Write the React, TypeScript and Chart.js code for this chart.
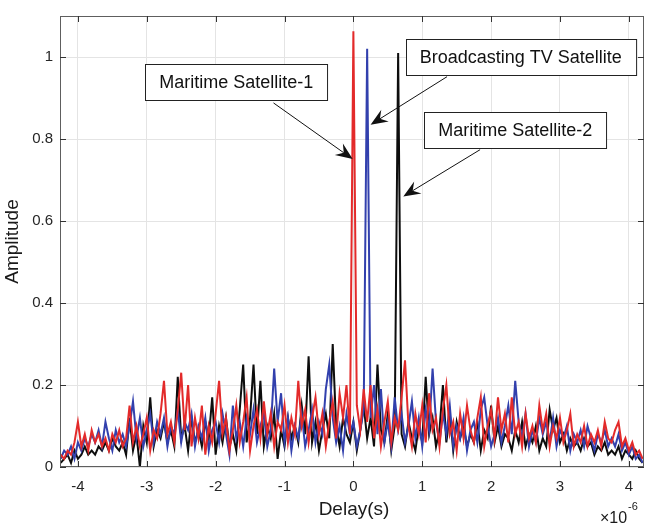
import { useEffect, useRef } from "react";
import { Chart, registerables } from "chart.js";

Chart.register(...registerables);

// Delay axis in units of 1e-6 s (the axis shows a ×10^-6 multiplier)
const delayStartUs = -4.25;
const delayStepUs = 0.05;

const xTickValues = [-4, -3, -2, -1, 0, 1, 2, 3, 4];
const yTickValues = [0, 0.2, 0.4, 0.6, 0.8, 1];

const maritime1 = [
  0.03, 0.02, 0.04, 0.03, 0.06, 0.11, 0.05, 0.08, 0.04, 0.09,
  0.06, 0.08, 0.05, 0.07, 0.04, 0.08, 0.06, 0.09, 0.05, 0.07,
  0.15, 0.06, 0.10, 0.05, 0.08, 0.12, 0.04, 0.09, 0.07, 0.13,
  0.21, 0.08, 0.11, 0.06, 0.14, 0.23, 0.09, 0.20, 0.05, 0.12,
  0.07, 0.15, 0.03, 0.10, 0.06, 0.13, 0.21, 0.08, 0.12, 0.04,
  0.09, 0.15, 0.06, 0.11, 0.17, 0.04, 0.10, 0.14, 0.07, 0.16,
  0.08, 0.13, 0.05, 0.11, 0.09, 0.15, 0.06, 0.12, 0.08, 0.21,
  0.10, 0.14, 0.06, 0.12, 0.17, 0.08, 0.13, 0.05, 0.11, 0.16,
  0.07, 0.18, 0.12, 0.20, 0.08, 1.063, 0.15, 0.09, 0.19, 0.11,
  0.20, 0.07, 0.14, 0.05, 0.11, 0.16, 0.06, 0.12, 0.09, 0.17,
  0.26, 0.10, 0.05, 0.13, 0.08, 0.15, 0.06, 0.18, 0.09, 0.12,
  0.05, 0.14, 0.20, 0.08, 0.11, 0.04, 0.13, 0.07, 0.15, 0.09,
  0.06, 0.12, 0.17, 0.05, 0.10, 0.14, 0.07, 0.17, 0.09, 0.13,
  0.06, 0.17, 0.08, 0.11, 0.05, 0.13, 0.07, 0.10, 0.06, 0.15,
  0.09, 0.13, 0.05, 0.10, 0.07, 0.12, 0.06, 0.09, 0.13, 0.05,
  0.08, 0.06, 0.10, 0.05, 0.08, 0.06, 0.09, 0.05, 0.11, 0.07,
  0.06, 0.09, 0.11, 0.05, 0.07, 0.04, 0.06, 0.03, 0.04, 0.02,
];

const broadcastingTV = [
  0.02, 0.04, 0.03, 0.05, 0.02, 0.06, 0.04, 0.07, 0.05, 0.08,
  0.06, 0.09, 0.05, 0.11, 0.07, 0.04, 0.09, 0.06, 0.08, 0.05,
  0.10, 0.16, 0.07, 0.12, 0.05, 0.09, 0.13, 0.06, 0.11, 0.08,
  0.12, 0.05, 0.10, 0.08, 0.14, 0.06, 0.11, 0.09, 0.13, 0.05,
  0.10, 0.07, 0.12, 0.04, 0.09, 0.11, 0.06, 0.13, 0.08, 0.03,
  0.15, 0.07, 0.11, 0.05, 0.12, 0.08, 0.14, 0.06, 0.10, 0.13,
  0.05, 0.09, 0.24, 0.11, 0.18, 0.06, 0.12, 0.04, 0.10, 0.07,
  0.13, 0.05, 0.09, 0.14, 0.06, 0.11, 0.08, 0.19, 0.25, 0.12,
  0.06, 0.10, 0.04, 0.13, 0.08, 0.11, 0.05, 0.09, 0.14, 1.02,
  0.12, 0.20, 0.08, 0.19, 0.06, 0.11, 0.05, 0.17, 0.09, 0.13,
  0.06, 0.10, 0.16, 0.07, 0.12, 0.05, 0.14, 0.09, 0.24, 0.11,
  0.06, 0.13, 0.08, 0.15, 0.05, 0.10, 0.07, 0.12, 0.04, 0.09,
  0.11, 0.06, 0.14, 0.17, 0.10, 0.05, 0.08, 0.12, 0.06, 0.10,
  0.15, 0.08, 0.21, 0.11, 0.07, 0.13, 0.05, 0.09, 0.06, 0.12,
  0.08, 0.11, 0.06, 0.12, 0.05, 0.09, 0.07, 0.10, 0.04, 0.08,
  0.06, 0.09, 0.05, 0.10, 0.07, 0.04, 0.08, 0.06, 0.09, 0.05,
  0.07, 0.05, 0.08, 0.04, 0.06, 0.03, 0.05, 0.02, 0.03, 0.01,
];

const maritime2 = [
  0.01, 0.02, 0.03, 0.01, 0.04, 0.02, 0.03, 0.05, 0.03, 0.04,
  0.03, 0.05, 0.04, 0.06, 0.04, 0.07, 0.05, 0.04, 0.06, 0.03,
  0.12, 0.04, 0.08, 0.00, 0.10, 0.06, 0.17, 0.05, 0.09, 0.07,
  0.11, 0.06, 0.09, 0.05, 0.22, 0.07, 0.10, 0.04, 0.12, 0.06,
  0.09, 0.05, 0.11, 0.07, 0.17, 0.03, 0.10, 0.06, 0.12, 0.05,
  0.08, 0.04, 0.14, 0.25, 0.06, 0.12, 0.25, 0.08, 0.21, 0.05,
  0.10, 0.07, 0.13, 0.02, 0.09, 0.05, 0.12, 0.07, 0.10, 0.06,
  0.15, 0.08, 0.27, 0.06, 0.11, 0.04, 0.09, 0.13, 0.07, 0.30,
  0.10, 0.05, 0.12, 0.08, 0.06, 0.11, 0.04, 0.09, 0.15, 0.07,
  0.12, 0.05, 0.25, 0.09, 0.06, 0.13, 0.04, 0.10, 1.01, 0.08,
  0.05, 0.11, 0.07, 0.04, 0.10, 0.06, 0.22, 0.08, 0.12, 0.05,
  0.09, 0.20, 0.06, 0.13, 0.04, 0.11, 0.07, 0.10, 0.05, 0.08,
  0.06, 0.11, 0.04, 0.09, 0.07, 0.15, 0.06, 0.10, 0.05, 0.08,
  0.07, 0.04, 0.09, 0.06, 0.11, 0.05, 0.08, 0.06, 0.10, 0.04,
  0.07, 0.05, 0.14, 0.09, 0.12, 0.06, 0.08, 0.04, 0.07, 0.05,
  0.06, 0.04, 0.07, 0.05, 0.06, 0.03, 0.05, 0.04, 0.06, 0.03,
  0.04, 0.03, 0.05, 0.02, 0.04, 0.03, 0.02, 0.04, 0.02, 0.01,
];

// Annotations (text box centre and arrow tail/tip in data coordinates)
const annotations = [
  { text: "Maritime Satellite-1", cx: -1.70, cy: 0.940, tail: [-1.16, 0.888], tip: [-0.01, 0.751] },
  { text: "Broadcasting TV Satellite", cx: 2.43, cy: 0.999, tail: [1.36, 0.952], tip: [0.25, 0.835] },
  { text: "Maritime Satellite-2", cx: 2.35, cy: 0.821, tail: [1.84, 0.774], tip: [0.725, 0.660] },
];

const FONT = "'Liberation Sans', Arial, Helvetica, sans-serif";

function toPoints(values: number[]) {
  return values.map((v, i) => ({
    x: Math.round((delayStartUs + i * delayStepUs) * 1000) / 1000,
    y: v,
  }));
}

function drawArrow(ctx: CanvasRenderingContext2D, x1: number, y1: number, x2: number, y2: number) {
  const ang = Math.atan2(y2 - y1, x2 - x1);
  const headLen = 17;
  const headHalf = 7;
  const back = 11;
  const bx = x2 - Math.cos(ang) * back;
  const by = y2 - Math.sin(ang) * back;
  ctx.beginPath();
  ctx.moveTo(x1, y1);
  ctx.lineTo(bx, by);
  ctx.strokeStyle = "#111";
  ctx.lineWidth = 1;
  ctx.stroke();
  const hx = x2 - Math.cos(ang) * headLen;
  const hy = y2 - Math.sin(ang) * headLen;
  const px = -Math.sin(ang) * headHalf;
  const py = Math.cos(ang) * headHalf;
  ctx.beginPath();
  ctx.moveTo(x2, y2);
  ctx.lineTo(hx + px, hy + py);
  ctx.lineTo(bx, by);
  ctx.lineTo(hx - px, hy - py);
  ctx.closePath();
  ctx.fillStyle = "#111";
  ctx.fill();
}

const decorPlugin = {
  id: "decor",
  afterDraw(chart: any) {
    const { ctx, chartArea: a, scales } = chart;
    const xs = scales.x;
    const ys = scales.y;
    ctx.save();
    // frame
    ctx.strokeStyle = "#5e5e5e";
    ctx.lineWidth = 1;
    ctx.strokeRect(a.left + 0.5, a.top + 0.5, a.right - a.left - 1, a.bottom - a.top - 1);
    // inward ticks
    ctx.strokeStyle = "#333";
    ctx.beginPath();
    xTickValues.forEach((v) => {
      const x = Math.round(xs.getPixelForValue(v)) + 0.5;
      ctx.moveTo(x, a.bottom);
      ctx.lineTo(x, a.bottom - 6);
      ctx.moveTo(x, a.top);
      ctx.lineTo(x, a.top + 6);
    });
    yTickValues.forEach((v) => {
      const y = Math.round(ys.getPixelForValue(v)) + 0.5;
      ctx.moveTo(a.left, y);
      ctx.lineTo(a.left + 6, y);
      ctx.moveTo(a.right, y);
      ctx.lineTo(a.right - 6, y);
    });
    ctx.stroke();

    // axis titles
    ctx.fillStyle = "#1a1a1a";
    ctx.font = `19px ${FONT}`;
    ctx.textAlign = "center";
    ctx.textBaseline = "middle";
    ctx.fillText("Delay(s)", (a.left + a.right) / 2 + 2, 510);
    ctx.save();
    ctx.translate(13, (a.top + a.bottom) / 2);
    ctx.rotate(-Math.PI / 2);
    ctx.fillText("Amplitude", 0, 0);
    ctx.restore();

    // exponent
    ctx.textAlign = "left";
    ctx.textBaseline = "alphabetic";
    ctx.font = `16px ${FONT}`;
    ctx.fillText("\u00d710", 600, 523);
    ctx.font = `11px ${FONT}`;
    ctx.fillText("-6", 628, 510);

    // annotations
    annotations.forEach((an) => {
      drawArrow(
        ctx,
        xs.getPixelForValue(an.tail[0]),
        ys.getPixelForValue(an.tail[1]),
        xs.getPixelForValue(an.tip[0]),
        ys.getPixelForValue(an.tip[1])
      );
    });
    annotations.forEach((an) => {
      ctx.font = `18px ${FONT}`;
      const w = ctx.measureText(an.text).width + 28;
      const h = 36;
      const cx = xs.getPixelForValue(an.cx);
      const cy = ys.getPixelForValue(an.cy);
      const x0 = Math.round(cx - w / 2) + 0.5;
      const y0 = Math.round(cy - h / 2) + 0.5;
      ctx.fillStyle = "#fff";
      ctx.fillRect(x0, y0, w, h);
      ctx.strokeStyle = "#222";
      ctx.lineWidth = 1;
      ctx.strokeRect(x0, y0, w, h);
      ctx.fillStyle = "#111";
      ctx.textAlign = "center";
      ctx.textBaseline = "middle";
      ctx.fillText(an.text, cx, cy + 1);
    });
    ctx.restore();
  },
};

export default function App() {
  const ref = useRef<HTMLCanvasElement | null>(null);

  useEffect(() => {
    document.body.style.margin = "0";
    if (!ref.current) return;
    const chart = new Chart(ref.current, {
      type: "line",
      data: {
        datasets: [
          { label: "Maritime Satellite-1", data: toPoints(maritime1), borderColor: "#e32a2a", borderWidth: 2, pointRadius: 0, tension: 0 },
          { label: "Broadcasting TV Satellite", data: toPoints(broadcastingTV), borderColor: "#3240ad", borderWidth: 2, pointRadius: 0, tension: 0 },
          { label: "Maritime Satellite-2", data: toPoints(maritime2), borderColor: "#0d0d0d", borderWidth: 2, pointRadius: 0, tension: 0 },
        ],
      },
      options: {
        responsive: false,
        animation: false,
        layout: { padding: { top: 4, right: 2, left: 0, bottom: 0 } },
        plugins: { legend: { display: false }, tooltip: { enabled: false } },
        scales: {
          x: {
            type: "linear",
            min: -4.26,
            max: 4.22,
            afterBuildTicks: (s: any) => {
              s.ticks = xTickValues.map((v) => ({ value: v }));
            },
            afterFit: (s: any) => {
              s.height = 62;
            },
            grid: { color: "#e4e4e4", drawTicks: false },
            border: { display: false },
            ticks: {
              padding: 11,
              color: "#262626",
              font: { family: FONT, size: 15 },
              maxRotation: 0,
              autoSkip: false,
              callback: (v: any) => String(Math.round(Number(v))),
            },
          },
          y: {
            type: "linear",
            min: 0,
            max: 1.1,
            afterBuildTicks: (s: any) => {
              s.ticks = yTickValues.map((v) => ({ value: v }));
            },
            afterFit: (s: any) => {
              s.width = 60;
            },
            grid: { color: "#e4e4e4", drawTicks: false },
            border: { display: false },
            ticks: {
              padding: 7,
              color: "#262626",
              font: { family: FONT, size: 15 },
              autoSkip: false,
              callback: (v: any) => {
                const n = Math.round(Number(v) * 10) / 10;
                return n === 0 ? "0" : n === 1 ? "1" : String(n);
              },
            },
          },
        },
      },
      plugins: [decorPlugin],
    });
    return () => chart.destroy();
  }, []);

  return (
    <canvas
      ref={ref}
      width={646}
      height={529}
      style={{ display: "block", width: 646, height: 529 }}
    />
  );
}
